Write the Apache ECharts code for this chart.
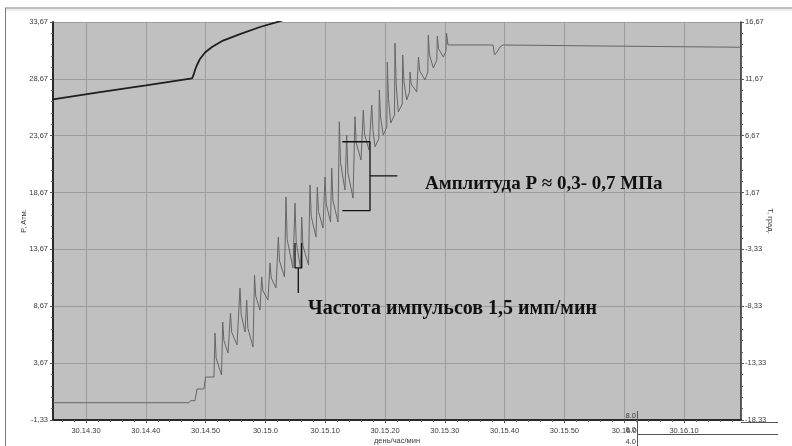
<!DOCTYPE html>
<html><head><meta charset="utf-8">
<script src="https://cdn.jsdelivr.net/npm/echarts@6/dist/echarts.min.js"></script>
<style>html,body{margin:0;padding:0;background:#fff}#c{width:792px;height:446px}</style>
</head><body><div id="c"></div>
<script>
// time in minutes after 14:00 on day 30
const xTickMinutes = [30, 40, 50, 60, 70, 80, 90, 100, 110, 120, 130];
const leftTicks = [-1.33, 3.67, 8.67, 13.67, 18.67, 23.67, 28.67, 33.67];
const rightTicks = [-18.33, -13.33, -8.33, -3.33, 1.67, 6.67, 11.67, 16.67];

// Pressure, P (Атм.) — left axis
const pTime = [24.48, 47.22, 47.47, 48.23, 48.56, 49.73, 49.98, 51.40,
 51.57, 51.77, 52.66, 52.86, 53.06, 53.75, 54.16, 54.36, 55.25, 55.75, 55.95, 56.59,
 56.87, 57.07, 57.93, 58.18, 58.38, 59.10, 59.38, 59.58, 60.43, 60.77, 60.97, 61.77,
 62.16, 62.36, 63.19, 63.44, 63.64, 64.61, 64.95, 65.15, 65.87, 66.07, 66.27, 67.21,
 67.46, 67.66, 68.46, 68.68, 68.88, 69.63, 69.97, 70.17, 70.89, 71.09, 71.29, 72.14,
 72.36, 72.56, 73.31, 73.59, 73.80, 74.65, 74.98, 75.18, 75.99, 76.37, 76.57, 77.32,
 77.78, 77.98, 78.33, 78.96, 79.05, 79.25, 79.71, 80.30, 80.38, 80.58, 80.95, 81.59,
 81.67, 81.87, 82.22, 82.88, 82.96, 83.16, 83.63, 84.10, 84.18, 84.38, 85.30,
 85.60, 85.80, 86.69, 87.16, 87.24, 87.44, 88.08, 88.66, 88.75, 88.95, 89.75, 90.20,
 90.28, 90.53, 90.87, 98.06, 98.31, 98.73, 99.23, 99.73, 115.95, 139.36];
const pValue = [0.19, 0.19, 0.37, 0.37, 1.40, 1.40, 2.45, 2.45,
 6.32, 4.10, 2.63, 7.29, 5.65, 4.56, 8.08, 6.39, 5.27, 10.28, 7.96, 6.41,
 9.22, 6.74, 5.09, 11.42, 9.57, 8.34, 11.25, 10.03, 9.22, 12.48, 11.16, 10.28,
 14.76, 12.65, 11.25, 18.28, 14.53, 12.04, 17.75, 14.32, 12.04, 16.52, 13.99, 12.30,
 19.34, 16.59, 14.76, 19.16, 17.00, 15.55, 20.04, 17.67, 16.08, 20.83, 17.98, 16.08,
 24.90, 21.30, 18.90, 23.73, 20.41, 18.19, 25.34, 23.06, 21.53, 25.93, 23.82, 22.41,
 26.37, 24.17, 22.70, 23.40, 27.69, 25.32, 23.73, 24.43, 30.15, 26.93, 24.79, 25.49,
 31.82, 28.18, 25.76, 26.46, 30.77, 28.39, 26.81, 27.51, 29.27, 28.22, 27.51,
 30.59, 29.38, 28.57, 29.27, 32.53, 30.79, 29.62, 30.32, 32.44, 31.33, 30.59, 31.09,
 32.70, 31.65, 31.65, 31.65, 30.77, 31.03, 31.47, 31.65, 31.56, 31.45];

// Temperature — right axis
const tTime = [24.48, 32.34, 40.03, 47.73, 47.98, 48.23, 48.56, 49.06, 49.90, 51.07, 52.91, 55.75, 59.10, 61.77, 63.28];
const tValue = [9.87, 10.50, 11.10, 11.72, 12.01, 12.45, 12.89, 13.42, 13.99, 14.47, 15.04, 15.61, 16.23, 16.63, 16.89];

// Annotation brackets (data coordinates on left axis)
const bracket1 = [[64.95, 14.24], [64.95, 12.04], [66.07, 12.04], [66.07, 14.24]];
const pointer1 = [[65.50, 12.04], [65.50, 9.84]];
const bracket2 = [[72.86, 23.14], [77.49, 23.14], [77.49, 17.08], [72.86, 17.08]];
const pointer2 = [[77.49, 20.13], [82.06, 20.13]];

const noteAmp = 'Амплитуда Р ≈ 0,3- 0,7 МПа';
const noteFreq = 'Частота импульсов 1,5 имп/мин';

const minorX = [], minorL = [], minorR = [];
for (let v = 26; v <= 138; v += 2) if (v % 10) minorX.push(v);
for (let i = 0; i < 35; i++) { if (i % 5) { minorL.push(+(-1.33 + i).toFixed(2)); minorR.push(+(-18.33 + i).toFixed(2)); } }

const fmtComma = v => v.toFixed(2).replace('.', ',');
const fmtTime = v => '30.' + (14 + Math.floor(v / 60)) + '.' + (v % 60);
const zip = (a, b) => a.map((x, i) => [x, b[i]]);

const lblFont = { color: '#3a3a3a', fontSize: 7.5, fontFamily: 'Liberation Sans' };
const nameFont = { color: '#3a3a3a', fontSize: 7.5, fontFamily: 'Liberation Sans' };
const gridLine = { show: true, lineStyle: { color: '#9c9c9c', width: 1 } };
const X0 = 24.48, X1 = 139.53;

const chart = echarts.init(document.getElementById('c'));
chart.setOption({
  animation: false,
  backgroundColor: '#fff',
  grid: { left: 53, right: 51, top: 22, bottom: 26, show: true, backgroundColor: '#c0c0c0', borderWidth: 0,
          containLabel: false, outerBoundsMode: 'none' },
  xAxis: [{
    type: 'value', min: X0, max: X1,
    name: 'день/час/мин', nameLocation: 'middle', nameGap: 17, nameMoveOverlap: false,
    nameTextStyle: nameFont,
    axisLine: { onZero: false, lineStyle: { color: '#2a2a2a', width: 2 } },
    axisTick: { show: true, inside: false, length: 3, customValues: xTickMinutes, lineStyle: { color: '#555' } },
    axisLabel: Object.assign({ customValues: xTickMinutes, formatter: fmtTime, margin: 7 }, lblFont),
    splitLine: gridLine
  }, {
    type: 'value', min: X0, max: X1, position: 'bottom',
    axisLine: { show: false, onZero: false }, axisLabel: { show: false }, splitLine: { show: false },
    axisTick: { show: true, length: 2, customValues: minorX, lineStyle: { color: '#666' } }
  }],
  yAxis: [{
    type: 'value', min: -1.33, max: 33.67, position: 'left',
    name: 'P, Атм.', nameLocation: 'middle', nameGap: 25, nameRotate: 90, nameMoveOverlap: false,
    nameTextStyle: nameFont,
    axisLine: { show: true, onZero: false, lineStyle: { color: '#2a2a2a', width: 2 } },
    axisTick: { show: true, length: 3, customValues: leftTicks, lineStyle: { color: '#555' } },
    axisLabel: Object.assign({ customValues: leftTicks, formatter: fmtComma, margin: 5 }, lblFont),
    splitLine: gridLine
  }, {
    type: 'value', min: -18.33, max: 16.67, position: 'right',
    name: 'Т, град.', nameLocation: 'middle', nameGap: 25, nameRotate: -90, nameMoveOverlap: false,
    nameTextStyle: nameFont,
    axisLine: { show: true, onZero: false, lineStyle: { color: '#2a2a2a', width: 1.5 } },
    axisTick: { show: true, length: 3, customValues: rightTicks, lineStyle: { color: '#555' } },
    axisLabel: Object.assign({ customValues: rightTicks, formatter: fmtComma, margin: 4 }, lblFont),
    splitLine: { show: false }
  }, {
    type: 'value', min: -1.33, max: 33.67, position: 'left',
    axisLine: { show: false, onZero: false }, axisLabel: { show: false }, splitLine: { show: false },
    axisTick: { show: true, length: 2, customValues: minorL, lineStyle: { color: '#666' } }
  }, {
    type: 'value', min: -18.33, max: 16.67, position: 'right',
    axisLine: { show: false, onZero: false }, axisLabel: { show: false }, splitLine: { show: false },
    axisTick: { show: true, length: 2, customValues: minorR, lineStyle: { color: '#666' } }
  }],
  series: [
    { type: 'line', name: 'P', data: zip(pTime, pValue), yAxisIndex: 0, showSymbol: false, symbol: 'none',
      lineStyle: { color: '#666', width: 1 }, z: 3 },
    { type: 'line', name: 'T', data: zip(tTime, tValue), yAxisIndex: 1, showSymbol: false, symbol: 'none',
      lineStyle: { color: '#1e1e1e', width: 1.8 }, z: 4 },
    { type: 'line', data: bracket1, yAxisIndex: 0, symbol: 'none', lineStyle: { color: '#111', width: 1.3 }, z: 5 },
    { type: 'line', data: pointer1, yAxisIndex: 0, symbol: 'none', lineStyle: { color: '#111', width: 1.3 }, z: 5 },
    { type: 'line', data: bracket2, yAxisIndex: 0, symbol: 'none', lineStyle: { color: '#111', width: 1.3 }, z: 5 },
    { type: 'line', data: pointer2, yAxisIndex: 0, symbol: 'none', lineStyle: { color: '#111', width: 1.3 }, z: 5 }
  ],
  graphic: [
    { type: 'line', shape: { x1: 5, y1: 8, x2: 792, y2: 8 }, style: { stroke: '#7a7a7a', lineWidth: 1 }, silent: true },
    { type: 'line', shape: { x1: 5, y1: 10, x2: 792, y2: 10 }, style: { stroke: '#d8d8d8', lineWidth: 1 }, silent: true },
    { type: 'line', shape: { x1: 5.5, y1: 8, x2: 5.5, y2: 446 }, style: { stroke: '#7a7a7a', lineWidth: 1 }, silent: true },
    { type: 'text', left: 425, top: 175, z: 10,
      style: { text: noteAmp, font: 'bold 19px "Liberation Serif"', fill: '#111' } },
    { type: 'text', left: 308, top: 299, z: 10,
      style: { text: noteFreq, font: 'bold 20px "Liberation Serif"', fill: '#111' } },
    { type: 'line', shape: { x1: 637.5, y1: 411, x2: 637.5, y2: 446 }, style: { stroke: '#555', lineWidth: 1 }, z: 10 },
    { type: 'line', shape: { x1: 741, y1: 422.5, x2: 778, y2: 422.5 }, style: { stroke: '#555', lineWidth: 1 }, z: 10 },
    { type: 'line', shape: { x1: 637, y1: 434.5, x2: 778, y2: 434.5 }, style: { stroke: '#555', lineWidth: 1 }, z: 10 },
    { type: 'text', right: 792 - 636, top: 412, z: 10, style: { text: '8.0', font: '7.5px "Liberation Sans"', fill: '#3a3a3a' } },
    { type: 'text', right: 792 - 636, top: 426, z: 10, style: { text: '6.0', font: '7.5px "Liberation Sans"', fill: '#3a3a3a' } },
    { type: 'text', right: 792 - 636, top: 438, z: 10, style: { text: '4.0', font: '7.5px "Liberation Sans"', fill: '#3a3a3a' } }
  ]
});
</script></body></html>
